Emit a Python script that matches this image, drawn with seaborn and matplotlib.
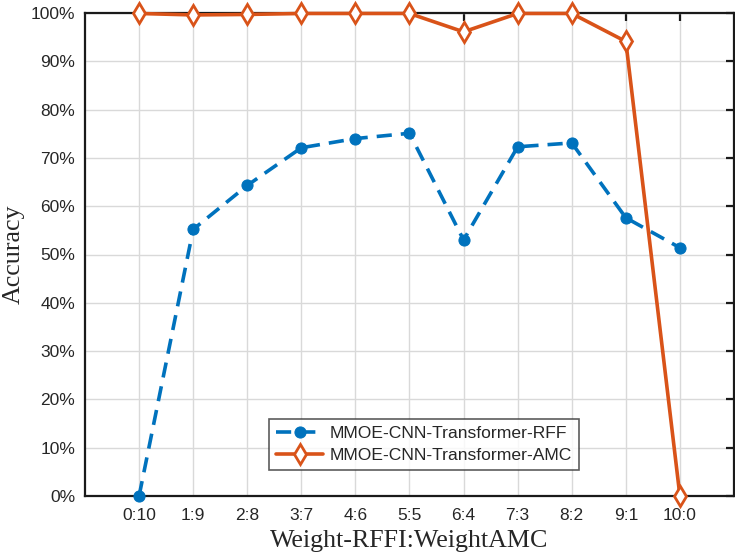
import matplotlib
matplotlib.use("Agg")
import matplotlib.pyplot as plt
import seaborn as sns
import pandas as pd
import numpy as np
from matplotlib.ticker import FuncFormatter

categories = ["0:10", "1:9", "2:8", "3:7", "4:6", "5:5", "6:4", "7:3", "8:2", "9:1", "10:0"]
rff = [0.0, 55.2, 64.3, 72.1, 74.0, 75.1, 53.0, 72.3, 73.1, 57.6, 51.4]
amc = [99.9, 99.6, 99.7, 99.9, 99.9, 99.9, 96.1, 99.9, 99.9, 94.1, 0.0]
series_names = ["MMOE-CNN-Transformer-RFF", "MMOE-CNN-Transformer-AMC"]
yticks = [0, 10, 20, 30, 40, 50, 60, 70, 80, 90, 100]

sns.set_theme(style="white")
plt.rcParams['font.family'] = ['Liberation Sans', 'DejaVu Sans']

df = pd.DataFrame({"x": np.arange(len(categories)), "rff": rff, "amc": amc})

fig = plt.figure(figsize=(7.35, 5.59), dpi=100)
ax = fig.add_axes([85/735, 1-496/559, (734-85)/735, (496-13)/559])

blue = "#0072BD"
orange = "#D95319"

sns.lineplot(data=df, x="x", y="rff", ax=ax, color=blue, linewidth=2.6,
             linestyle=(0, (4.2, 2.5)), marker="o", markersize=8,
             markeredgecolor=blue, markerfacecolor=blue, label=series_names[0],
             clip_on=False, zorder=3)
sns.lineplot(data=df, x="x", y="amc", ax=ax, color=orange, linewidth=2.6,
             marker="d", markersize=10, markeredgewidth=2,
             markeredgecolor=orange, markerfacecolor="white", label=series_names[1],
             clip_on=False, zorder=4)

ax.set_xlim(-1, len(categories))
ax.set_ylim(0, 100)
ax.set_xticks(range(len(categories)))
ax.set_xticklabels(categories)
ax.set_yticks(yticks)
ax.yaxis.set_major_formatter(FuncFormatter(lambda v, p: f"{int(v)}%"))
ax.grid(True, color="#d9d9d9", linewidth=1.0)
ax.set_axisbelow(True)
for s in ax.spines.values():
    s.set_color("#1a1a1a")
    s.set_linewidth(1.6)
    s.set_visible(True)
ax.tick_params(direction="in", length=6, width=1.6, color="#1a1a1a",
               top=True, right=True, labelsize=12.5, labelcolor="#262626")
ax.tick_params(axis="x", pad=9)
ax.tick_params(axis="y", pad=7)
ax.set_xlabel("Weight-RFFI:WeightAMC", fontsize=18.7, family=["Liberation Serif"],
              color="#262626", labelpad=5)
ax.set_ylabel("Accuracy", fontsize=18.7, family=["Liberation Serif"], color="#262626")

leg = ax.legend(loc="lower left", bbox_to_anchor=(0.27, 0.036), fontsize=12.6,
                frameon=True, fancybox=False, edgecolor="#333333",
                handlelength=2.7, handletextpad=0.35, borderpad=0.4, labelspacing=0.35)
leg.get_frame().set_linewidth(1.2)

fig.savefig("out.png", dpi=100)
